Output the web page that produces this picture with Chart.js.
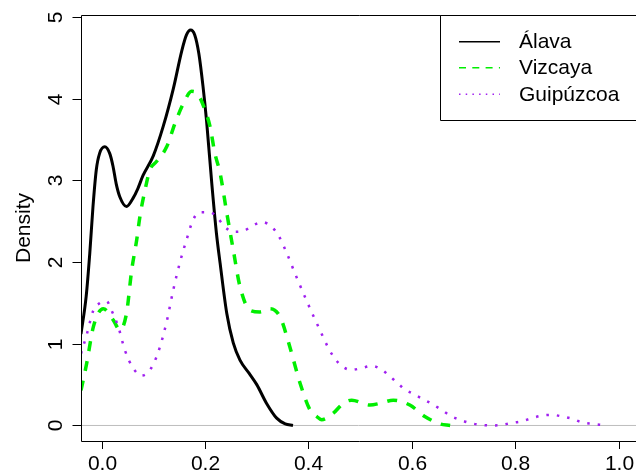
<!DOCTYPE html>
<html>
<head>
<meta charset="utf-8">
<script src="https://cdn.jsdelivr.net/npm/chart.js@4"></script>
<style>
    html, body { margin: 0; padding: 0; background: #ffffff; }
    #chart { display: block; }
</style>
</head>
<body>
<canvas id="chart" width="636" height="474"></canvas>
<script>
// ==================== DATA ====================

const seriesNames = ['Álava', 'Vizcaya', 'Guipúzcoa'];

const alavaX = [-0.04, -0.030, -0.023, -0.0168, -0.0104, -0.004, 0.006, 0.0155, 0.022, 0.028,
    0.035, 0.048, 0.0605, 0.070, 0.080, 0.0998, 0.119, 0.1385, 0.1547, 0.164,
    0.172, 0.180, 0.188, 0.196, 0.203, 0.213, 0.222, 0.229, 0.242, 0.2545,
    0.2675, 0.285, 0.30, 0.319, 0.3385, 0.355, 0.37];
const alavaY = [1.12, 1.58, 2.11, 2.68, 3.13, 3.33, 3.41, 3.33, 3.17, 2.96,
    2.80, 2.68, 2.78, 2.90, 3.06, 3.30, 3.66, 4.12, 4.58, 4.78,
    4.84, 4.78, 4.55, 4.15, 3.72, 2.96, 2.35, 1.99, 1.37, 1.01,
    0.80, 0.64, 0.50, 0.27, 0.09, 0.02, 0.0];

const vizcayaX = [-0.04, -0.029, -0.016, 0.003, 0.0225, 0.035, 0.048, 0.058, 0.0677, 0.074,
    0.0838, 0.0934, 0.106, 0.1257, 0.142, 0.158, 0.174, 0.184, 0.200, 0.2095,
    0.219, 0.229, 0.242, 0.2545, 0.2675, 0.287, 0.306, 0.3255, 0.345, 0.364,
    0.3836, 0.403, 0.416, 0.4255, 0.448, 0.467, 0.4836, 0.519, 0.538, 0.564,
    0.596, 0.625, 0.654, 0.674];
const vizcayaY = [0.43, 0.76, 1.21, 1.43, 1.29, 1.17, 1.37, 1.90, 2.27, 2.56,
    2.88, 3.13, 3.23, 3.41, 3.70, 3.94, 4.09, 4.07, 3.86, 3.66,
    3.33, 3.09, 2.60, 2.15, 1.70, 1.41, 1.39, 1.43, 1.33, 0.96,
    0.52, 0.19, 0.11, 0.07, 0.15, 0.27, 0.31, 0.25, 0.27, 0.31,
    0.25, 0.11, 0.02, 0.0];

const guipuzcoaX = [-0.04, -0.029, -0.016, -0.003, 0.0097, 0.019, 0.032, 0.045, 0.061, 0.0774,
    0.0934, 0.1095, 0.1257, 0.1385, 0.1515, 0.164, 0.177, 0.190, 0.2095, 0.2255,
    0.2385, 0.2545, 0.274, 0.293, 0.311, 0.329, 0.3416, 0.358, 0.374, 0.390,
    0.406, 0.422, 0.440, 0.451, 0.464, 0.482, 0.5015, 0.522, 0.540, 0.556,
    0.572, 0.587, 0.6046, 0.622, 0.640, 0.6576, 0.674, 0.693, 0.712, 0.732,
    0.752, 0.772, 0.792, 0.812, 0.832, 0.851, 0.871, 0.891, 0.911, 0.930,
    0.950, 0.969];
const guipuzcoaY = [0.88, 1.11, 1.41, 1.50, 1.52, 1.41, 1.21, 0.92, 0.70, 0.61,
    0.68, 0.90, 1.27, 1.66, 2.00, 2.27, 2.52, 2.61, 2.61, 2.53,
    2.43, 2.37, 2.38, 2.45, 2.49, 2.43, 2.33, 2.11, 1.86, 1.62,
    1.39, 1.17, 0.93, 0.82, 0.73, 0.68, 0.70, 0.73, 0.69, 0.61,
    0.52, 0.44, 0.38, 0.32, 0.26, 0.19, 0.12, 0.07, 0.03, 0.01,
    0.0, 0.005, 0.03, 0.05, 0.09, 0.12, 0.13, 0.11, 0.08, 0.035,
    0.02, 0.005];

const xTicks = [0, 0.2, 0.4, 0.6, 0.8, 1.0];
const xTickLabels = ['0.0', '0.2', '0.4', '0.6', '0.8', '1.0'];
const yTicks = [0, 1, 2, 3, 4, 5];
const yTickLabels = ['0', '1', '2', '3', '4', '5'];
const yTitle = 'Density';

// ==================== HELPERS ====================

const FONT = '21px "Liberation Sans", Arial, Helvetica, sans-serif';

function toPoints(xs, ys) {
    return xs.map((x, i) => ({ x: x, y: ys[i] }));
}

// R-style box, axes, zero line and legend
const rStylePlugin = {
    id: 'rStyle',
    beforeDatasetsDraw(chart) {
        const { ctx, chartArea, scales } = chart;
        const y0 = scales.y.getPixelForValue(0);
        ctx.save();
        ctx.strokeStyle = '#bebebe';
        ctx.lineWidth = 1;
        ctx.beginPath();
        ctx.moveTo(chartArea.left, y0);
        ctx.lineTo(chartArea.right, y0);
        ctx.stroke();
        ctx.restore();
    },
    afterDraw(chart) {
        const { ctx, chartArea, scales } = chart;
        const left = chartArea.left, top = chartArea.top, bottom = chartArea.bottom;
        const right = chart.width + 5;

        ctx.save();
        ctx.strokeStyle = '#000000';
        ctx.fillStyle = '#000000';
        ctx.lineWidth = 1;

        // box (right side falls outside the picture)
        ctx.beginPath();
        ctx.moveTo(right, top + 0.5);
        ctx.lineTo(left + 0.5, top + 0.5);
        ctx.lineTo(left + 0.5, bottom + 0.5);
        ctx.lineTo(right, bottom + 0.5);
        ctx.stroke();

        ctx.font = FONT;

        // x axis
        ctx.textAlign = 'center';
        ctx.textBaseline = 'alphabetic';
        xTicks.forEach((v, i) => {
            const px = Math.round(scales.x.getPixelForValue(v)) + 0.5;
            ctx.beginPath();
            ctx.moveTo(px, bottom);
            ctx.lineTo(px, bottom + 8);
            ctx.stroke();
            ctx.fillText(xTickLabels[i], px, 470);
        });

        // y axis
        yTicks.forEach((v, i) => {
            const py = Math.round(scales.y.getPixelForValue(v)) + 0.5;
            ctx.beginPath();
            ctx.moveTo(left, py);
            ctx.lineTo(left - 8.5, py);
            ctx.stroke();
            ctx.save();
            ctx.translate(61.5, py);
            ctx.rotate(-Math.PI / 2);
            ctx.fillText(yTickLabels[i], 0, 0);
            ctx.restore();
        });

        // y title
        ctx.save();
        ctx.translate(29.5, (top + bottom) / 2);
        ctx.rotate(-Math.PI / 2);
        ctx.fillText(yTitle, 0, 0);
        ctx.restore();

        // legend
        ctx.beginPath();
        ctx.rect(440.5, top + 0.5, right - 440, 105);
        ctx.fillStyle = '#ffffff';
        ctx.fill();
        ctx.stroke();

        const rowY = [41.7, 67.7, 94.3];
        const legendDash = [[], [7, 6.3], [1.5, 5.2]];
        chart.data.datasets.forEach((ds, i) => {
            ctx.save();
            ctx.strokeStyle = ds.borderColor;
            ctx.lineWidth = 1.6;
            ctx.lineCap = 'butt';
            ctx.setLineDash(legendDash[i]);
            ctx.beginPath();
            ctx.moveTo(459, rowY[i]);
            ctx.lineTo(500, rowY[i]);
            ctx.stroke();
            ctx.restore();
            ctx.fillStyle = '#000000';
            ctx.textAlign = 'left';
            ctx.textBaseline = 'middle';
            ctx.fillText(ds.label, 519, rowY[i] + 1);
        });

        ctx.restore();
    }
};

// ==================== CHART ====================

const ctx = document.getElementById('chart').getContext('2d');
const chart = new Chart(ctx, {
    type: 'scatter',
    data: {
        datasets: [
            {
                label: seriesNames[0],
                data: toPoints(alavaX, alavaY),
                borderColor: '#000000',
                borderWidth: 3,
                order: 3
            },
            {
                label: seriesNames[1],
                data: toPoints(vizcayaX, vizcayaY),
                borderColor: '#00ee00',
                borderWidth: 3.5,
                borderDash: [10, 10],
                order: 2
            },
            {
                label: seriesNames[2],
                data: toPoints(guipuzcoaX, guipuzcoaY),
                borderColor: '#a020f0',
                borderWidth: 2.5,
                borderDash: [2.5, 8],
                order: 1
            }
        ]
    },
    options: {
        responsive: false,
        animation: false,
        devicePixelRatio: 1,
        showLine: true,
        layout: {
            padding: { left: 81, top: 15, right: 0, bottom: 33 }
        },
        elements: {
            point: { radius: 0, hoverRadius: 0 },
            line: { cubicInterpolationMode: 'monotone', borderCapStyle: 'butt', fill: false }
        },
        scales: {
            x: {
                type: 'linear',
                display: false,
                min: -0.04,
                max: 1.0335
            },
            y: {
                type: 'linear',
                display: false,
                min: -0.19,
                max: 5.024
            }
        },
        plugins: {
            legend: { display: false },
            tooltip: { enabled: false }
        }
    },
    plugins: [rStylePlugin]
});
</script>
</body>
</html>
